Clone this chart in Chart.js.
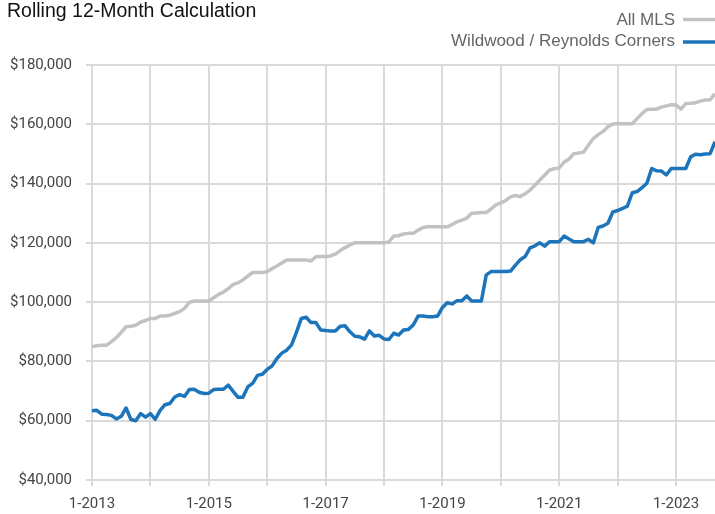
<!DOCTYPE html>
<html>
<head>
<meta charset="utf-8">
<title>Rolling 12-Month Calculation</title>
<script src="https://cdn.jsdelivr.net/npm/chart.js@4/dist/chart.umd.min.js"></script>
<style>
    html, body { margin: 0; padding: 0; background: #fff; }
    #wrap { position: relative; width: 715px; height: 514px; }
</style>
</head>
<body>
<div id="wrap"><canvas id="chart" width="715" height="514"></canvas></div>
<script>
// ── Datos ─────────────────────────────────────────────────────────────────
const TITLE       = 'Rolling 12-Month Calculation';
const SERIES_NAMES = ['All MLS', 'Wildwood / Reynolds Corners'];
const FIRST_YEAR  = 2013;
const MONTH_COUNT = 129;   // 1-2013 … 9-2023

const allMls = [
    85000, 85300, 85500, 85500, 86700, 88000, 89800, 91700, 91900, 92200, 93300, 93800,
    94500, 94500, 95300, 95300, 95600, 96200, 96800, 97900, 99900, 100400, 100400, 100400,
    100400, 101500, 102600, 103400, 104500, 106000, 106500, 107500, 108800, 110000, 110000, 110000,
    110300, 111300, 112200, 113200, 114200, 114200, 114200, 114200, 114200, 113900, 115300, 115400,
    115400, 115600, 116200, 117400, 118400, 119300, 120000, 120000, 120000, 120000, 120000, 120000,
    120000, 120300, 122300, 122400, 123000, 123200, 123200, 124300, 125200, 125400, 125400, 125400,
    125400, 125400, 126200, 127100, 127700, 128300, 130000, 130100, 130200, 130200, 131500, 132800,
    133500, 134300, 135500, 136000, 135600, 136600, 137800, 139400, 141200, 142800, 144600, 145000,
    145300, 147200, 148300, 150100, 150300, 150600, 153000, 155200, 156500, 157600, 159200, 160100,
    160200, 160200, 160200, 160200, 161900, 163600, 165000, 165100, 165100, 165800, 166200, 166600,
    166500, 165100, 167000, 167100, 167300, 167800, 168200, 168300, 170300
];

const wildwood = [
    63400, 63500, 62200, 62100, 61800, 60600, 61500, 64300, 60400, 60000, 62400, 61200,
    62400, 60500, 63500, 65400, 65800, 68000, 68800, 68200, 70500, 70600, 69600, 69200,
    69300, 70500, 70600, 70600, 72000, 69900, 67900, 67900, 71400, 72600, 75300, 75700,
    77300, 78500, 81000, 82800, 83800, 85600, 89800, 94500, 94900, 93100, 93100, 90600,
    90400, 90300, 90300, 91900, 92000, 90000, 88500, 88300, 87500, 90300, 88600, 88800,
    87600, 87400, 89500, 88900, 90600, 90800, 92300, 95300, 95300, 95100, 95100, 95300,
    98200, 99800, 99400, 100500, 100500, 102100, 100400, 100400, 100400, 109200, 110300, 110300,
    110300, 110300, 110500, 112500, 114300, 115400, 118300, 119000, 120000, 118900, 120400, 120400,
    120400, 122300, 121300, 120400, 120400, 120400, 121200, 120000, 125200, 125700, 126600, 130400,
    130900, 131600, 132400, 136900, 137300, 138600, 140100, 145100, 144300, 144200, 142900, 145100,
    145100, 145100, 145100, 149000, 149900, 149700, 150000, 150100, 154100
];

const Y_MIN  = 40000;
const Y_MAX  = 180000;
const Y_STEP = 20000;

// categorías "M-YYYY"
const months = [];
for (let i = 0; i < MONTH_COUNT; i++) {
    months.push(`${(i % 12) + 1}-${FIRST_YEAR + Math.floor(i / 12)}`);
}

// ── Estilo ────────────────────────────────────────────────────────────────
const GRID_COLOR = '#dadada';
const GRAY_LINE  = '#c2c2c2';
const BLUE_LINE  = '#1c74bb';
const TICK_FONT  = { family: 'Roboto, "Liberation Sans", sans-serif', size: 15 };

// título y leyenda dibujados a mano (la leyenda va alineada a la derecha)
const headerPlugin = {
    id: 'header',
    afterDraw(chart) {
        const ctx = chart.ctx;
        ctx.save();
        ctx.textBaseline = 'alphabetic';

        ctx.fillStyle = '#111';
        ctx.font = '19.5px "Liberation Sans", Arial, sans-serif';
        ctx.textAlign = 'left';
        ctx.fillText(TITLE, 7, 17);

        const entries = [
            { label: SERIES_NAMES[0], color: GRAY_LINE, base: 25, lineY: 19.5 },
            { label: SERIES_NAMES[1], color: BLUE_LINE, base: 46, lineY: 42 }
        ];
        ctx.font = '17px "Liberation Sans", Arial, sans-serif';
        ctx.textAlign = 'right';
        entries.forEach(e => {
            ctx.fillStyle = '#666';
            ctx.fillText(e.label, 675, e.base);
            ctx.strokeStyle = e.color;
            ctx.lineWidth = 3.5;
            ctx.beginPath();
            ctx.moveTo(683, e.lineY);
            ctx.lineTo(715, e.lineY);
            ctx.stroke();
        });
        ctx.restore();
    }
};

// ── Gráfica ───────────────────────────────────────────────────────────────
new Chart(document.getElementById('chart').getContext('2d'), {
    type: 'line',
    data: {
        labels: months,
        datasets: [
            {
                label: SERIES_NAMES[0],
                data: allMls,
                borderColor: GRAY_LINE,
                borderWidth: 3.5,
                pointRadius: 0,
                pointHoverRadius: 0,
                tension: 0,
                borderJoinStyle: 'round'
            },
            {
                label: SERIES_NAMES[1],
                data: wildwood,
                borderColor: BLUE_LINE,
                borderWidth: 3.5,
                pointRadius: 0,
                pointHoverRadius: 0,
                tension: 0,
                borderJoinStyle: 'round'
            }
        ]
    },
    options: {
        responsive: false,
        animation: false,
        layout: { autoPadding: false, padding: { top: 65, right: 0, left: 0, bottom: 0 } },
        plugins: {
            legend: { display: false },
            title: { display: false },
            tooltip: { enabled: false }
        },
        scales: {
            x: {
                offset: false,
                // el eje no debe reservar margen a la derecha: la línea llega al borde
                afterFit: s => { s.height = 34; s.paddingRight = 0; s.paddingLeft = 0; },
                border: { display: false },
                grid: {
                    color: c => (c.index % 12 === 0 ? GRID_COLOR : 'transparent'),
                    lineWidth: 2,
                    tickLength: 6
                },
                ticks: {
                    autoSkip: false,
                    maxRotation: 0,
                    minRotation: 0,
                    padding: 9,
                    color: '#444',
                    font: TICK_FONT,
                    callback: function (val, i) {
                        return i % 24 === 0 ? this.getLabelForValue(val) : '';
                    }
                }
            },
            y: {
                min: Y_MIN,
                max: Y_MAX,
                afterFit: s => { s.width = 92; },
                border: { display: false },
                grid: { color: GRID_COLOR, lineWidth: 2, tickLength: 6 },
                ticks: {
                    stepSize: Y_STEP,
                    padding: 14,
                    color: '#444',
                    font: TICK_FONT,
                    callback: v => '$' + v.toLocaleString('en-US')
                }
            }
        }
    },
    plugins: [headerPlugin]
});
</script>
</body>
</html>
